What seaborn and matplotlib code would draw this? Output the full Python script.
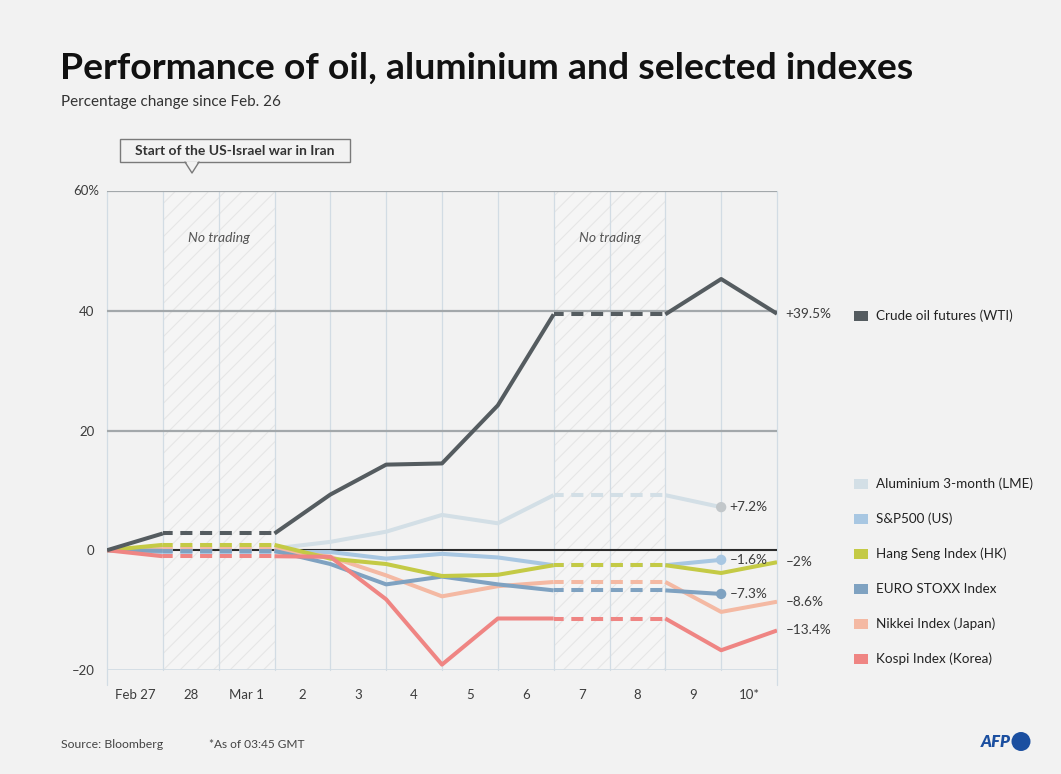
import numpy as np
import pandas as pd
import matplotlib
matplotlib.use("Agg")
import matplotlib.pyplot as plt
import seaborn as sns
from matplotlib.patches import Rectangle, Polygon, Ellipse

# ---------------- data ----------------
day_labels = ["Feb 27", "28", "Mar 1", "2", "3", "4", "5", "6", "7", "8", "9", "10*"]
day_index = list(range(13))          # 0 = Feb 26 baseline
no_trading_spans = [(1, 3), (8, 10)]  # dashed / hatched stretches

series_names = ["Crude oil futures (WTI)", "Aluminium 3-month (LME)", "S&P500 (US)",
                "Hang Seng Index (HK)", "EURO STOXX Index", "Nikkei Index (Japan)",
                "Kospi Index (Korea)"]
oil       = [0, 2.8, 2.8, 2.8, 9.3, 14.3, 14.5, 24.2, 39.4, 39.4, 39.4, 45.3, 39.5]
aluminium = [0, 0.3, 0.3, 0.3, 1.4, 3.1, 5.9, 4.5, 9.2, 9.2, 9.2, 7.2, np.nan]
sp500     = [0, -0.3, -0.3, -0.3, -0.3, -1.4, -0.6, -1.2, -2.5, -2.5, -2.5, -1.6, np.nan]
hangseng  = [0, 0.9, 0.9, 0.9, -1.4, -2.3, -4.3, -4.1, -2.5, -2.5, -2.5, -3.8, -2.0]
eurostoxx = [0, -0.1, -0.1, -0.1, -2.3, -5.7, -4.4, -5.7, -6.7, -6.7, -6.7, -7.3, np.nan]
nikkei    = [0, 0.2, 0.2, 0.2, -1.1, -4.2, -7.7, -6.0, -5.3, -5.3, -5.3, -10.3, -8.6]
kospi     = [0, -1.0, -1.0, -1.0, -1.1, -8.2, -19.1, -11.4, -11.4, -11.4, -11.4, -16.7, -13.4]
end_labels = ["+39.5%", "+7.2%", "–1.6%", "–2%", "–7.3%", "–8.6%", "–13.4%"]

series_values = [oil, aluminium, sp500, hangseng, eurostoxx, nikkei, kospi]
colors = ["#555c60", "#d3dfe6", "#a8c7e2", "#c4ca45", "#7fa2c1", "#f4b9a3", "#ef8583"]
dot_colors = [None, "#c2c7ca", "#a8c7e2", None, "#7fa2c1", None, None]
draw_order = [1, 2, 5, 4, 3, 6, 0]
legend_y = [316, 484, 519, 554, 589, 624, 659]

y_ticks = [-20, 0, 20, 40, 60]
y_ticklabels = ["–20", "0", "20", "40", ""]
top_label = "60%"

# ---------------- style ----------------
sns.set_theme(style="white")
FONT = ["Lato", "DejaVu Sans"]
plt.rcParams["font.family"] = FONT
plt.rcParams["hatch.linewidth"] = 0.8
BG = "#f2f2f2"
TXT = "#3c3c3c"

W, H = 1061, 774
fig = plt.figure(figsize=(W / 100, H / 100), dpi=100, facecolor=BG)


def fx(x):
    return x / W


def fy(y):
    return 1 - y / H


ax = fig.add_axes([fx(107), fy(670), 670 / W, 479 / H])
ax.set_facecolor(BG)
ax.set_xlim(0, 12)
ax.set_ylim(-20, 60)
for s in ax.spines.values():
    s.set_visible(False)

# hatched no-trading areas
for a, b in no_trading_spans:
    ax.axvspan(a, b, facecolor="#f5f5f5", edgecolor="#e6e6e6", hatch="//",
               linewidth=0, zorder=0)

# vertical grid
for i in day_index:
    ext = -0.031 if i in (0, 12) else 0
    ax.axvline(i, ymin=ext, ymax=1, color="#d2dce4", lw=0.9, zorder=0.5, clip_on=False)
# horizontal grid
for v in [20, 40, 60]:
    ax.axhline(v, color="#a3a8ab", lw=1.6, zorder=0.6)
ax.axhline(-20, color="#d2dce4", lw=2.0, zorder=0.6)
ax.axhline(0, color="#2b2b2b", lw=1.5, zorder=1.5)

# series
for k in draw_order:
    vals = np.array(series_values[k], dtype=float)
    df = pd.DataFrame({"day": day_index, "value": vals})
    col = colors[k]
    lw = 2.9
    bounds = [0] + [p for span in no_trading_spans for p in span] + [12]
    segs = [(bounds[j], bounds[j + 1]) for j in range(0, len(bounds), 2)]
    for a, b in segs:
        sub = df[(df.day >= a) & (df.day <= b)].dropna()
        if len(sub) > 1:
            sns.lineplot(data=sub, x="day", y="value", ax=ax, color=col, lw=lw,
                         zorder=2 + (0.1 if k == 0 else 0), solid_capstyle="butt",
                         estimator=None, sort=False)
    for a, b in no_trading_spans:
        sub = df[(df.day >= a) & (df.day <= b)].dropna()
        sns.lineplot(data=sub, x="day", y="value", ax=ax, color=col, lw=lw,
                     linestyle=(0.6, (3.0, 1.9)), dash_capstyle="butt",
                     zorder=2, estimator=None, sort=False)
    last = df.dropna().iloc[-1]
    if dot_colors[k] is not None:
        sns.scatterplot(x=[last.day], y=[last.value], ax=ax, color=dot_colors[k],
                        s=55, edgecolor="none", zorder=3)
    ax.annotate(end_labels[k], (last.day, last.value), xytext=(6, 0),
                textcoords="offset points", va="center", ha="left",
                fontsize=9.8, color=TXT, annotation_clip=False)

ax.set_xlabel("")
ax.set_ylabel("")
ax.set_xticks([i - 0.5 for i in range(1, 13)])
ax.set_xticklabels(day_labels)
ax.set_yticks(y_ticks)
ax.set_yticklabels(y_ticklabels)
ax.tick_params(axis="both", length=0, labelsize=9.5, labelcolor=TXT)
ax.tick_params(axis="x", pad=14)
ax.tick_params(axis="y", pad=9)
fig.text(fx(99), fy(191), top_label, ha="right", va="center", fontsize=9.5, color=TXT)

# no trading labels
for a, b in no_trading_spans:
    ax.text((a + b) / 2, 52.2, "No trading", ha="center", va="center",
            style="italic", fontsize=10, color="#555555")

# ---------------- figure texts ----------------
fig.text(fx(60), fy(79), "Performance of oil, aluminium and selected indexes",
         ha="left", va="baseline", fontsize=26.9, fontweight="bold", color="#111111")
fig.text(fx(61), fy(106), "Percentage change since Feb. 26", ha="left",
         va="baseline", fontsize=11, color="#333333")

# annotation box
fig.patches.append(Rectangle((fx(120), fy(162)), 230 / W, 23 / H, transform=fig.transFigure,
                             facecolor=BG, edgecolor="#7a7a7a", lw=1.0))
fig.lines.append(plt.Line2D([fx(185), fx(192), fx(199)], [fy(162), fy(173), fy(162)],
                            transform=fig.transFigure, color="#7a7a7a", lw=1.0))
fig.patches.append(Polygon([(fx(186), fy(161.5)), (fx(192), fy(171)), (fx(198), fy(161.5))],
                           closed=True, transform=fig.transFigure, facecolor=BG,
                           edgecolor="none"))
fig.text(fx(235), fy(151), "Start of the US-Israel war in Iran", ha="center",
         va="center", fontsize=10, fontweight="bold", color="#333333")

# legend
for k, name in enumerate(series_names):
    fig.patches.append(Rectangle((fx(854), fy(legend_y[k] + 5)), 14 / W, 10 / H,
                                 transform=fig.transFigure, facecolor=colors[k],
                                 edgecolor="none"))
    fig.text(fx(876), fy(legend_y[k]), name, ha="left", va="center",
             fontsize=9.7, color="#222222")

# footer
fig.text(fx(61), fy(744), "Source: Bloomberg", ha="left", va="center",
         fontsize=8.8, color="#444444")
fig.text(fx(209), fy(744), "*As of 03:45 GMT", ha="left", va="center",
         fontsize=8.6, color="#444444")
fig.text(fx(1011), fy(742), "AFP", ha="right", va="center", fontsize=12,
         fontweight="heavy", style="italic", color="#1b4fa0")
fig.patches.append(Ellipse((fx(1021), fy(741.5)), 19 / W, 19 / H, transform=fig.transFigure,
                           facecolor="#1b4fa0", edgecolor="none"))

fig.savefig("out.png", dpi=100, facecolor=BG)
